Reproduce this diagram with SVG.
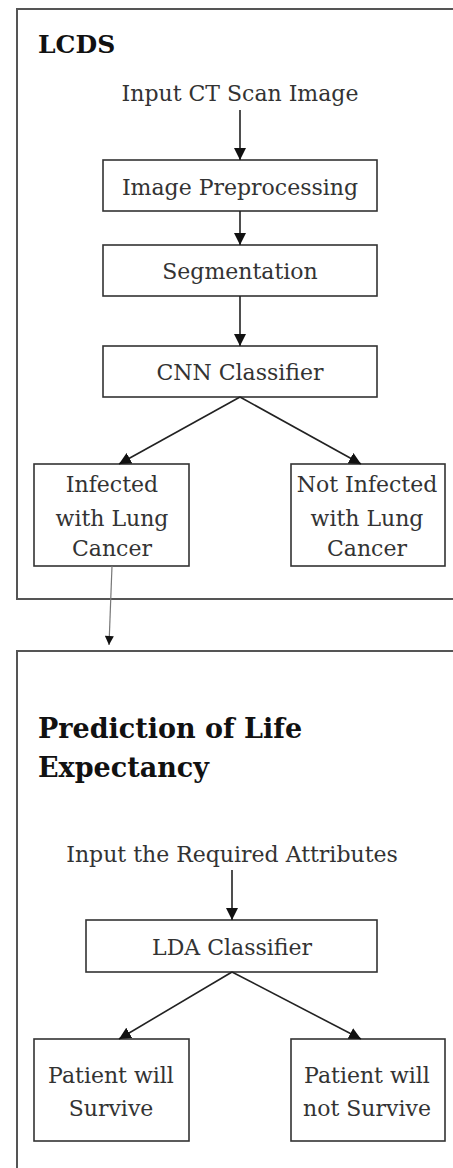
<svg xmlns="http://www.w3.org/2000/svg" width="453" height="1168" viewBox="0 0 453 1168">
<style>
.frame{fill:none;stroke:#555;stroke-width:2}
.box{fill:#fff;stroke:#333;stroke-width:1.6}
.t{font-family:"DejaVu Serif","Liberation Serif",serif;font-size:22px;fill:#333;text-anchor:middle}
.h{font-family:"DejaVu Serif","Liberation Serif",serif;font-size:25px;font-weight:bold;fill:#111}
.h2{font-size:27px}
.c{fill:none;stroke:#222;stroke-width:1.6}
.thin{fill:none;stroke:#777;stroke-width:1.2}
</style>
<defs>
<marker id="ah" viewBox="0 0 10 10" refX="10" refY="5" markerWidth="10" markerHeight="9" markerUnits="userSpaceOnUse" orient="auto">
<path d="M0,0 L10,5 L0,10 z" fill="#111"/>
</marker>
<marker id="ah2" viewBox="0 0 10 10" refX="10" refY="5" markerWidth="12" markerHeight="12" markerUnits="userSpaceOnUse" orient="auto">
<path d="M0,0 L10,5 L0,10 z" fill="#111"/>
</marker>
</defs>
<g id="lcds-frame">
<path class="frame" d="M453,9 H17 V599 H453"/>
<text class="h" x="38" y="53">LCDS</text>
</g>
<g id="life-frame">
<path class="frame" d="M453,651 H17 V1168"/>
<text class="h h2" x="38" y="738">Prediction of Life</text>
<text class="h h2" x="38" y="777">Expectancy</text>
</g>
<g id="input-ct"><text class="t" x="240" y="101">Input CT Scan Image</text></g>
<g id="preprocessing"><rect class="box" x="103" y="160" width="274" height="51"/><text class="t" x="240" y="195">Image Preprocessing</text></g>
<g id="segmentation"><rect class="box" x="103" y="245" width="274" height="51"/><text class="t" x="240" y="279">Segmentation</text></g>
<g id="cnn"><rect class="box" x="103" y="346" width="274" height="51"/><text class="t" x="240" y="380">CNN Classifier</text></g>
<g id="infected"><rect class="box" x="34" y="464" width="155" height="102"/><text class="t" x="112" y="492">Infected</text><text class="t" x="112" y="526">with Lung</text><text class="t" x="112" y="556">Cancer</text></g>
<g id="not-infected"><rect class="box" x="291" y="464" width="154" height="102"/><text class="t" x="367" y="492">Not Infected</text><text class="t" x="367" y="526">with Lung</text><text class="t" x="367" y="556">Cancer</text></g>
<g id="input-attr"><text class="t" x="232" y="862">Input the Required Attributes</text></g>
<g id="lda"><rect class="box" x="86" y="920" width="291" height="52"/><text class="t" x="232" y="955">LDA Classifier</text></g>
<g id="survive"><rect class="box" x="34" y="1039" width="155" height="102"/><text class="t" x="111" y="1083">Patient will</text><text class="t" x="111" y="1116">Survive</text></g>
<g id="not-survive"><rect class="box" x="291" y="1039" width="154" height="102"/><text class="t" x="367" y="1083">Patient will</text><text class="t" x="367" y="1116">not Survive</text></g>
<g id="connectors">
<line class="c" x1="240" y1="110" x2="240" y2="160" marker-end="url(#ah2)"/>
<line class="c" x1="240" y1="211" x2="240" y2="245" marker-end="url(#ah2)"/>
<line class="c" x1="240" y1="296" x2="240" y2="346" marker-end="url(#ah2)"/>
<line class="c" x1="240" y1="397" x2="119" y2="464" marker-end="url(#ah2)"/>
<line class="c" x1="240" y1="397" x2="361" y2="464" marker-end="url(#ah2)"/>
<line class="thin" x1="112" y1="566" x2="109" y2="645" marker-end="url(#ah)"/>
<line class="c" x1="232" y1="870" x2="232" y2="920" marker-end="url(#ah2)"/>
<line class="c" x1="232" y1="972" x2="119" y2="1039" marker-end="url(#ah2)"/>
<line class="c" x1="232" y1="972" x2="361" y2="1039" marker-end="url(#ah2)"/>
</g>
</svg>
